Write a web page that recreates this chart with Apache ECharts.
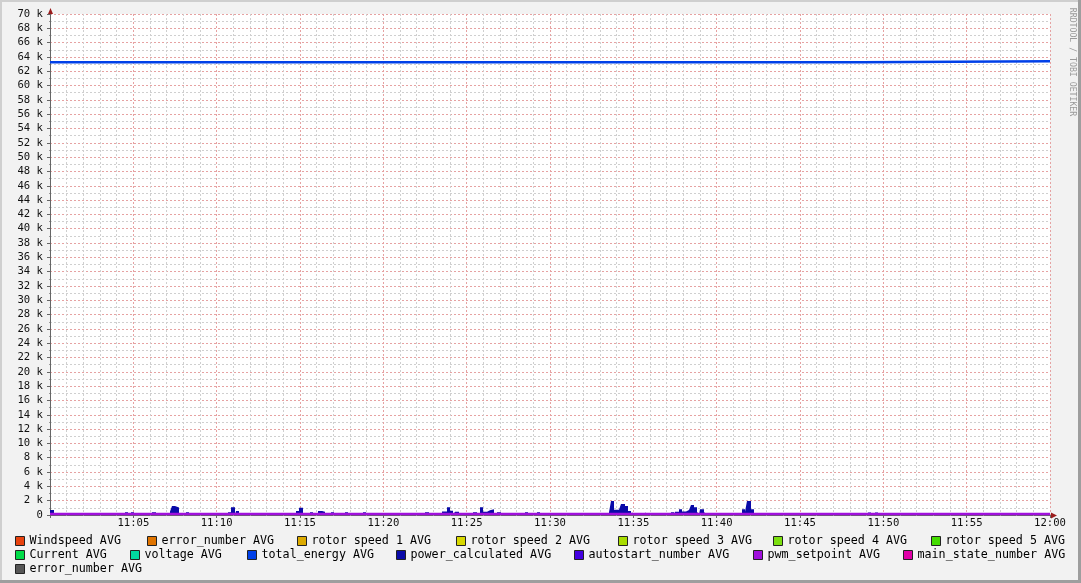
<!DOCTYPE html>
<html>
<head>
<meta charset="utf-8">
<script src="https://cdn.jsdelivr.net/npm/echarts@6/dist/echarts.min.js"></script>
<style>
html,body{margin:0;padding:0;background:#f2f2f2;}
#chart{width:1081px;height:583px;}
</style>
</head>
<body>
<div id="chart"></div>
<script>
// ---- data (x in minutes after 11:00, y in W) ----
const seriesNames = ['Windspeed AVG','error_number AVG','rotor speed 1 AVG','rotor speed 2 AVG','rotor speed 3 AVG','rotor speed 4 AVG','rotor speed 5 AVG','Current AVG','voltage AVG','total_energy AVG','power_calculated AVG','autostart_number AVG','pwm_setpoint AVG','main_state_number AVG','error_number AVG '];
const seriesColors = ['#e8420e','#e07400','#dcaa00','#d8d800','#a8dc00','#7ce010','#44dc00','#00dc48','#00d8a0','#0040e8','#0a0aa8','#4400e0','#a010dc','#e000a8','#555555'];

const energyTimes = [0, 48.66, 60];
const energyValues = [63250, 63400, 63400];

const pwmTimes = [0, 60];
const pwmValues = [140, 140];

const powerStart = [0,4.5,4.86,6.12,7.2,7.32,7.5,8.16,10.68,10.86,11.16,14.76,14.94,15.6,16.08,16.32,16.86,17.7,18.78,22.5,23.52,23.82,24.0,24.3,25.38,25.8,25.98,26.22,26.4,26.82,28.5,29.22,33.54,33.66,33.84,34.14,34.26,34.5,34.68,34.92,35.7,37.26,37.5,37.74,37.92,38.16,38.34,38.46,38.64,38.82,39.0,39.24,41.52,41.7,41.82,42.06,49.08,49.5];
const powerEnd   = [0.24,4.68,5.04,6.36,7.32,7.5,7.74,8.34,10.86,11.1,11.34,14.94,15.18,15.78,16.32,16.5,17.04,17.88,18.96,22.74,23.82,24.0,24.18,24.54,25.62,25.98,26.22,26.4,26.64,27.06,28.68,29.4,33.66,33.84,34.14,34.26,34.5,34.68,34.86,35.04,35.82,37.44,37.74,37.92,38.16,38.34,38.46,38.64,38.82,38.94,39.24,39.36,41.7,41.82,42.06,42.24,49.26,49.68];
const powerValue = [700,400,400,400,500,1250,1050,400,400,1100,550,550,1000,400,550,450,400,400,400,400,500,1100,600,450,400,1100,450,650,800,400,400,400,400,1950,750,600,1550,1250,550,400,400,400,450,800,500,700,450,1400,1100,450,800,450,800,450,1950,800,350,350];

const xMin = 0, xMax = 60, xInterval = 5;
const yMin = 0, yMax = 70000, yInterval = 2000;

// ---- build series data ----
const powerData = [];
for (let i = 0; i < powerStart.length; i++) {
  if (i === 0 && powerStart[0] > xMin) powerData.push([xMin, 0]);
  if (i > 0 && powerStart[i] !== powerEnd[i - 1]) powerData.push([powerEnd[i - 1], 0]);
  powerData.push([powerStart[i], powerValue[i]]);
}
powerData.push([powerEnd[powerEnd.length - 1], 0]);
powerData.push([xMax, 0]);

const energyData = energyTimes.map((t, i) => [t, energyValues[i]]);
const pwmData = pwmTimes.map((t, i) => [t, pwmValues[i]]);

const mono = "'DejaVu Sans Mono', monospace";

const series = seriesNames.map((name, i) => {
  const s = {
    name: name, type: 'line', data: [], color: seriesColors[i],
    showSymbol: false, symbol: 'none', animation: false,
    itemStyle: { color: seriesColors[i] }
  };
  if (i === 9) { s.data = energyData; s.step = 'end'; s.lineStyle = { width: 2.4, color: seriesColors[i] }; }
  if (i === 10) { s.data = powerData; s.step = 'end'; s.lineStyle = { width: 0 }; s.areaStyle = { color: seriesColors[i], opacity: 1 }; }
  if (i === 12) { s.data = pwmData; s.lineStyle = { width: 2.4, color: seriesColors[i] }; }
  return s;
});

const legendLeft = [15,147,297,456,618,773,931, 15,130,247,396,574,753,903, 15];
const legendTop  = [534,534,534,534,534,534,534, 548,548,548,548,548,548,548, 562];
const legends = seriesNames.map((name, i) => ({
  data: [name], left: legendLeft[i], top: legendTop[i], padding: 0,
  itemWidth: 9, itemHeight: 9, itemGap: 0, icon: 'rect',
  itemStyle: { borderColor: '#222', borderWidth: 1 },
  textStyle: { fontFamily: mono, fontSize: 11.7, color: '#000', lineHeight: 14 },
  selectedMode: false
}));

function xLabel(v) {
  if (v === xMin) return '';
  const total = 11 * 60 + v;
  const h = Math.floor(total / 60), m = total % 60;
  return h + ':' + String(m).padStart(2, '0');
}

const majorGrid = { show: true, lineStyle: { color: '#e6a2a2', type: [2, 2], width: 1 } };
const minorGrid = { show: true, lineStyle: { color: '#cfcfcf', type: [2, 2], width: 1 } };

const chart = echarts.init(document.getElementById('chart'), null, { renderer: 'canvas' });
chart.setOption({
  animation: false,
  backgroundColor: '#f2f2f2',
  grid: { left: 50, right: 31, top: 14, bottom: 68, show: true, backgroundColor: '#ffffff', borderWidth: 0 },
  xAxis: {
    type: 'value', min: xMin, max: xMax, interval: xInterval,
    axisLine: { show: true, lineStyle: { color: '#666', width: 1 } },
    axisTick: { show: true, length: 3, lineStyle: { color: '#666' } },
    minorTick: { show: true, splitNumber: 5, length: 1, lineStyle: { color: '#999' } },
    axisLabel: { formatter: xLabel, fontFamily: mono, fontSize: 10.6, color: '#111', margin: 3, showMinLabel: true, showMaxLabel: true },
    splitLine: majorGrid,
    minorSplitLine: minorGrid
  },
  yAxis: {
    type: 'value', min: yMin, max: yMax, interval: yInterval,
    axisLine: { show: true, lineStyle: { color: '#666', width: 1 } },
    axisTick: { show: true, length: 3, lineStyle: { color: '#666' } },
    minorTick: { show: true, splitNumber: 2, length: 1, lineStyle: { color: '#999' } },
    axisLabel: { formatter: v => v === 0 ? '0' : (v / 1000) + ' k', fontFamily: mono, fontSize: 10.6, color: '#111', margin: 7 },
    splitLine: majorGrid,
    minorSplitLine: minorGrid
  },
  legend: legends,
  series: series,
  graphic: [
    { type: 'rect', shape: { x: 0, y: 0, width: 1081, height: 2 }, style: { fill: '#cfcfcf' }, z: 100 },
    { type: 'rect', shape: { x: 0, y: 0, width: 2, height: 583 }, style: { fill: '#cfcfcf' }, z: 100 },
    { type: 'rect', shape: { x: 0, y: 580, width: 1081, height: 3 }, style: { fill: '#9e9e9e' }, z: 100 },
    { type: 'rect', shape: { x: 1078, y: 0, width: 3, height: 583 }, style: { fill: '#9e9e9e' }, z: 100 },
    { type: 'line', shape: { x1: 50.5, y1: 14, x2: 50.5, y2: 9 }, style: { stroke: '#666', lineWidth: 1 }, z: 100 },
    { type: 'polygon', shape: { points: [[48, 14], [53, 14], [50.5, 8]] }, style: { fill: '#9b1c1c' }, z: 100 },
    { type: 'line', shape: { x1: 1050, y1: 515.5, x2: 1053, y2: 515.5 }, style: { stroke: '#666', lineWidth: 1 }, z: 100 },
    { type: 'polygon', shape: { points: [[1051, 512.5], [1051, 518.5], [1057, 515.5]] }, style: { fill: '#9b1c1c' }, z: 100 },
    { type: 'text', x: 1072.5, y: 62, rotation: -Math.PI / 2, z: 100,
      style: { text: 'RRDTOOL / TOBI OETIKER', font: "8.2px 'DejaVu Sans Mono'", fill: '#9a9a9a', align: 'center', verticalAlign: 'middle' } }
  ]
});
</script>
</body>
</html>
